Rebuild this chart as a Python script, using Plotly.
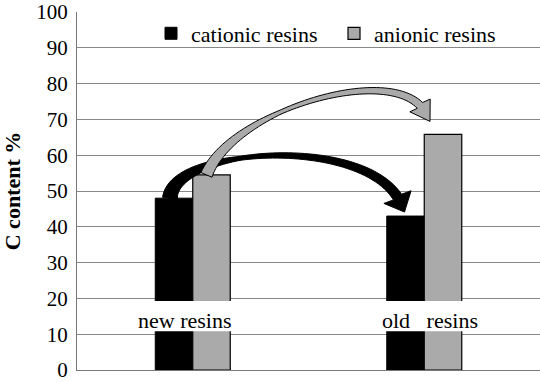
import numpy as np
import plotly.graph_objects as go

# ---- data ----
categories = ["new resins", "old\u00a0\u00a0\u00a0resins"]
series_names = ["cationic resins", "anionic resins"]
cationic = [48, 43]
anionic = [54.5, 65.8]
y_ticks = [0, 10, 20, 30, 40, 50, 60, 70, 80, 90, 100]

# ---- layout constants ----
W, H = 540, 382
ML, MR, MT, MB = 77, 0, 12, 12
PW, PH = W - ML - MR, H - MT - MB
YMAX = 100
BARGAP = 0.676
FONT = "Liberation Serif, Times New Roman, serif"
BLACK = "#000000"
GRAY = "#aaaaaa"


def ypx(v):
    return MT + PH * (1 - v / YMAX)


def bar_xpx(i, k):
    # centre pixel of bar k (0 cationic, 1 anionic) in category i
    slot = PW / len(categories)
    grp = slot * (1 - BARGAP)
    return ML + slot * (i + 0.5) + (k - 0.5) * grp / 2


def to_paper(px, py):
    return (px - ML) / PW, (MT + PH - py) / PH


def bezier(p0, p1, p2, p3, t):
    t = t[:, None]
    return ((1 - t) ** 3) * p0 + 3 * ((1 - t) ** 2) * t * p1 + 3 * (1 - t) * t ** 2 * p2 + t ** 3 * p3


def arrow_path(s, p1, p2, b, tip, widths, hw):
    s, p1, p2, b, tip = map(np.array, (s, p1, p2, b, tip))
    t = np.linspace(0, 1, 60)
    pts = bezier(s, p1, p2, b, t)
    d = np.gradient(pts, axis=0)
    d /= np.linalg.norm(d, axis=1)[:, None]
    n = np.stack([-d[:, 1], d[:, 0]], axis=1)
    w = np.interp(t, [0, 0.4, 1], widths)[:, None] / 2
    left = pts + n * w
    right = pts - n * w
    hd = tip - b
    hd = hd / np.linalg.norm(hd)
    hn = np.array([-hd[1], hd[0]])
    wl = b + hn * hw
    wr = b - hn * hw
    poly = list(left) + [wl, tip, wr] + list(right[::-1])
    coords = [to_paper(p[0], p[1]) for p in poly]
    return "M " + " L ".join(f"{x:.5f},{y:.5f}" for x, y in coords) + " Z"


fig = go.Figure()
fig.add_trace(go.Bar(x=categories, y=cationic, name=series_names[0],
                     marker=dict(color=BLACK, line=dict(color=BLACK, width=1))))
fig.add_trace(go.Bar(x=categories, y=anionic, name=series_names[1],
                     marker=dict(color=GRAY, line=dict(color=BLACK, width=1.2))))

shapes = []
# white band hiding the bars behind the category labels
shapes.append(dict(type="rect", xref="paper", yref="y", x0=0, x1=1, y0=10.8, y1=19.3,
                   fillcolor="white", line=dict(width=0), layer="above"))

# black arrow: new cationic -> old cationic
s = (bar_xpx(0, 0) - 4, ypx(cationic[0]))
tip = (bar_xpx(1, 0) - 1, ypx(cationic[1]) - 4)
b = (tip[0] - 7, tip[1] - 15)
p1 = (s[0] + 3, s[1] - 50)
p2 = (b[0] - 40, b[1] - 62)
shapes.append(dict(type="path", xref="paper", yref="paper",
                   path=arrow_path(s, p1, p2, b, tip, [15, 4, 10], 15),
                   fillcolor=BLACK, line=dict(color=BLACK, width=1), layer="above"))

# gray arrow: new anionic -> old anionic
s = (bar_xpx(0, 1) - 5, ypx(anionic[0]))
tip = (bar_xpx(1, 1) - 13, ypx(anionic[1]) - 13)
b = (tip[0] - 10, tip[1] - 16)
p1 = (s[0] + 24, s[1] - 62)
p2 = (b[0] - 40, b[1] - 40)
shapes.append(dict(type="path", xref="paper", yref="paper",
                   path=arrow_path(s, p1, p2, b, tip, [12, 4, 8], 12),
                   fillcolor=GRAY, line=dict(color=BLACK, width=1), layer="above"))

annotations = []
label_dx = [-8, 6]
for i, c in enumerate(categories):
    annotations.append(dict(x=c, y=13.8, xref="x", yref="y", text=c, showarrow=False,
                            xshift=label_dx[i], font=dict(family=FONT, size=22, color="black")))

fig.update_layout(
    width=W, height=H,
    margin=dict(l=ML, r=MR, t=MT, b=MB, autoexpand=False),
    paper_bgcolor="white", plot_bgcolor="white",
    barmode="group", bargap=BARGAP, bargroupgap=0,
    font=dict(family=FONT, size=22, color="black"),
    showlegend=True,
    legend=dict(orientation="h", x=(151 - ML) / PW, xanchor="left", y=0.94, yanchor="middle",
                bgcolor="rgba(0,0,0,0)", font=dict(family=FONT, size=22),
                entrywidth=138, entrywidthmode="pixels"),
    shapes=shapes,
    annotations=annotations,
)
fig.update_xaxes(showticklabels=False, showgrid=False, showline=True, linecolor="#777777",
                 linewidth=1, ticks="", zeroline=False, automargin=False)
fig.update_yaxes(range=[0, YMAX], tickvals=y_ticks, showgrid=True, gridcolor="#888888", gridwidth=1,
                 showline=True, linecolor="#777777", linewidth=1, ticks="", zeroline=False,
                 automargin=False, ticklabeloverflow="allow", ticklabelstandoff=4,
                 tickfont=dict(family=FONT, size=21),
                 title=dict(text="<b>C content %</b>", font=dict(family=FONT, size=22), standoff=18))

fig.write_html("out.html", post_script="document.body.style.margin='0px';",
               config={"displayModeBar": False})
